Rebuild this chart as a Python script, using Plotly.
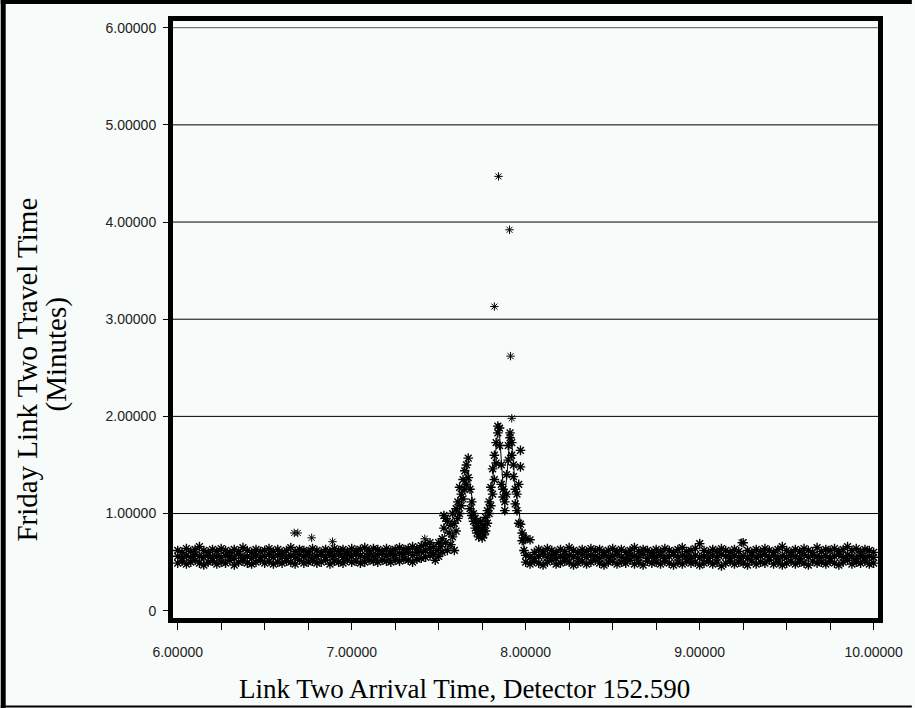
import plotly.graph_objects as go

# arrival time (hours) on a 0.025 grid before and after the congestion peak
timeEarly = [6.000, 6.025, 6.050, 6.075, 6.100, 6.125, 6.150, 6.175, 6.200, 6.225,
             6.250, 6.275, 6.300, 6.325, 6.350, 6.375, 6.400, 6.425, 6.450, 6.475,
             6.500, 6.525, 6.550, 6.575, 6.600, 6.625, 6.650, 6.675, 6.700, 6.725,
             6.750, 6.775, 6.800, 6.825, 6.850, 6.875, 6.900, 6.925, 6.950, 6.975,
             7.000, 7.025, 7.050, 7.075, 7.100, 7.125, 7.150, 7.175, 7.200, 7.225,
             7.250, 7.275, 7.300, 7.325, 7.350, 7.375, 7.400, 7.425, 7.450]
timeLate = [8.000, 8.025, 8.050, 8.075, 8.100, 8.125, 8.150, 8.175, 8.200, 8.225,
            8.250, 8.275, 8.300, 8.325, 8.350, 8.375, 8.400, 8.425, 8.450, 8.475,
            8.500, 8.525, 8.550, 8.575, 8.600, 8.625, 8.650, 8.675, 8.700, 8.725,
            8.750, 8.775, 8.800, 8.825, 8.850, 8.875, 8.900, 8.925, 8.950, 8.975,
            9.000, 9.025, 9.050, 9.075, 9.100, 9.125, 9.150, 9.175, 9.200, 9.225,
            9.250, 9.275, 9.300, 9.325, 9.350, 9.375, 9.400, 9.425, 9.450, 9.475,
            9.500, 9.525, 9.550, 9.575, 9.600, 9.625, 9.650, 9.675, 9.700, 9.725,
            9.750, 9.775, 9.800, 9.825, 9.850, 9.875, 9.900, 9.925, 9.950, 9.975,
            10.000]

# travel times (minutes): lower, middle and upper edge of the dense band
lowEarly = [0.49, 0.51, 0.48, 0.50, 0.52, 0.49, 0.47, 0.50, 0.51, 0.48,
            0.50, 0.49, 0.52, 0.47, 0.50, 0.51, 0.49, 0.48, 0.50, 0.52,
            0.49, 0.51, 0.48, 0.50, 0.49, 0.51, 0.50, 0.48, 0.52, 0.49,
            0.50, 0.51, 0.49, 0.50, 0.52, 0.48, 0.51, 0.50, 0.49, 0.52,
            0.50, 0.51, 0.49, 0.50, 0.52, 0.51, 0.50, 0.52, 0.51, 0.50,
            0.52, 0.51, 0.53, 0.52, 0.50, 0.53, 0.54, 0.55, 0.57]
midEarly = [0.56, 0.54, 0.57, 0.55, 0.58, 0.56, 0.55, 0.57, 0.54, 0.56,
            0.55, 0.57, 0.56, 0.54, 0.58, 0.55, 0.56, 0.54, 0.57, 0.55,
            0.56, 0.58, 0.55, 0.57, 0.56, 0.54, 0.57, 0.55, 0.58, 0.56,
            0.57, 0.55, 0.56, 0.58, 0.55, 0.57, 0.56, 0.58, 0.55, 0.57,
            0.56, 0.58, 0.57, 0.55, 0.58, 0.56, 0.57, 0.59, 0.56, 0.58,
            0.57, 0.59, 0.58, 0.60, 0.57, 0.60, 0.61, 0.62, 0.64]
highEarly = [0.62, 0.60, 0.64, 0.61, 0.63, 0.66, 0.62, 0.60, 0.63, 0.61,
             0.64, 0.62, 0.60, 0.63, 0.61, 0.65, 0.62, 0.60, 0.63, 0.61,
             0.62, 0.64, 0.61, 0.63, 0.60, 0.62, 0.65, 0.61, 0.63, 0.62,
             0.61, 0.64, 0.62, 0.60, 0.63, 0.61, 0.64, 0.62, 0.63, 0.61,
             0.64, 0.62, 0.63, 0.65, 0.62, 0.64, 0.63, 0.61, 0.64, 0.62,
             0.63, 0.65, 0.63, 0.64, 0.66, 0.64, 0.67, 0.68, 0.70]
lowLate = [0.50, 0.48, 0.51, 0.49, 0.47, 0.50, 0.52, 0.48, 0.49, 0.51,
           0.50, 0.47, 0.49, 0.51, 0.48, 0.50, 0.52, 0.49, 0.47, 0.50,
           0.51, 0.48, 0.50, 0.49, 0.52, 0.48, 0.50, 0.47, 0.51, 0.49,
           0.50, 0.48, 0.51, 0.49, 0.47, 0.50, 0.48, 0.51, 0.49, 0.50,
           0.47, 0.49, 0.51, 0.48, 0.50, 0.46, 0.49, 0.51, 0.48, 0.50,
           0.49, 0.47, 0.51, 0.48, 0.50, 0.49, 0.52, 0.48, 0.50, 0.47,
           0.49, 0.51, 0.48, 0.50, 0.49, 0.47, 0.51, 0.49, 0.50, 0.48,
           0.51, 0.49, 0.47, 0.50, 0.52, 0.48, 0.50, 0.49, 0.51, 0.48,
           0.49]
midLate = [0.57, 0.55, 0.54, 0.56, 0.58, 0.55, 0.57, 0.54, 0.56, 0.55,
           0.57, 0.56, 0.54, 0.58, 0.55, 0.57, 0.56, 0.54, 0.57, 0.55,
           0.56, 0.58, 0.55, 0.54, 0.57, 0.56, 0.55, 0.58, 0.54, 0.56,
           0.55, 0.57, 0.54, 0.56, 0.58, 0.55, 0.57, 0.56, 0.54, 0.57,
           0.55, 0.56, 0.54, 0.57, 0.55, 0.58, 0.56, 0.54, 0.57, 0.55,
           0.56, 0.54, 0.57, 0.55, 0.56, 0.58, 0.55, 0.57, 0.54, 0.56,
           0.55, 0.57, 0.56, 0.54, 0.58, 0.55, 0.57, 0.56, 0.55, 0.57,
           0.54, 0.56, 0.58, 0.55, 0.57, 0.56, 0.54, 0.57, 0.55, 0.56,
           0.55]
highLate = [0.74, 0.73, 0.60, 0.63, 0.61, 0.64, 0.62, 0.60, 0.63, 0.61,
            0.65, 0.62, 0.60, 0.63, 0.61, 0.64, 0.62, 0.63, 0.60, 0.62,
            0.64, 0.61, 0.63, 0.60, 0.62, 0.65, 0.61, 0.63, 0.62, 0.60,
            0.63, 0.61, 0.64, 0.62, 0.60, 0.63, 0.65, 0.61, 0.62, 0.64,
            0.69, 0.62, 0.60, 0.63, 0.61, 0.64, 0.62, 0.60, 0.63, 0.61,
            0.70, 0.62, 0.60, 0.63, 0.61, 0.64, 0.62, 0.60, 0.63, 0.66,
            0.62, 0.60, 0.63, 0.61, 0.64, 0.62, 0.60, 0.65, 0.61, 0.63,
            0.62, 0.64, 0.61, 0.63, 0.66, 0.62, 0.64, 0.61, 0.63, 0.62,
            0.60]

# congestion peak, read point by point
peakTime = [7.47, 7.47, 7.48, 7.49, 7.50, 7.50, 7.51, 7.52, 7.52, 7.53,
            7.53, 7.54, 7.54, 7.55, 7.55, 7.56, 7.57, 7.57, 7.58, 7.58,
            7.59, 7.59, 7.60, 7.60, 7.61, 7.61, 7.62, 7.62, 7.63, 7.63,
            7.64, 7.64, 7.65, 7.65, 7.66, 7.66, 7.67, 7.67, 7.68, 7.68,
            7.69, 7.69, 7.70, 7.70, 7.71, 7.71, 7.72, 7.72, 7.73, 7.73,
            7.74, 7.74, 7.75, 7.75, 7.76, 7.76, 7.77, 7.77, 7.78, 7.78,
            7.79, 7.79, 7.80, 7.80, 7.81, 7.81, 7.82, 7.82, 7.83, 7.83,
            7.84, 7.84, 7.85, 7.85, 7.86, 7.86, 7.87, 7.87, 7.88, 7.88,
            7.89, 7.89, 7.90, 7.90, 7.91, 7.91, 7.92, 7.92, 7.93, 7.93,
            7.94, 7.94, 7.95, 7.95, 7.96, 7.96, 7.97, 7.97, 7.97, 7.98,
            7.98, 7.99, 7.99]
peakTravel = [0.58, 0.66, 0.52, 0.62, 0.70, 0.56, 0.66, 0.74, 0.60, 0.98,
              0.85, 0.95, 0.70, 0.92, 0.62, 0.80, 0.68, 0.88, 0.76, 1.00,
              0.62, 0.90, 1.05, 0.82, 1.12, 0.95, 1.27, 1.00, 1.20, 1.08,
              1.35, 1.15, 1.44, 1.25, 1.50, 1.30, 1.57, 1.37, 1.25, 1.05,
              1.12, 0.98, 0.92, 1.00, 0.85, 0.95, 0.80, 0.90, 0.76, 0.86,
              0.92, 0.80, 0.75, 0.84, 0.88, 0.78, 0.96, 0.82, 1.03, 0.90,
              1.12, 1.00, 1.27, 1.08, 1.46, 1.20, 1.60, 1.35, 1.73, 1.52,
              1.90, 1.83, 1.70, 1.88, 1.50, 1.30, 1.17, 1.25, 1.03, 1.12,
              1.20, 1.40, 1.55, 1.70, 1.83, 1.78, 1.73, 1.60, 1.38, 1.50,
              1.25, 1.10, 1.03, 1.20, 0.90, 1.30, 1.65, 1.48, 0.89, 0.80,
              0.72, 0.62, 0.75]

# isolated points
outTime = [6.67, 6.69, 6.77, 6.89, 7.42, 7.82, 7.844, 7.907, 7.913, 7.92, 9.00, 9.24]
outTravel = [0.80, 0.80, 0.75, 0.71, 0.74, 3.13, 4.47, 3.92, 2.62, 1.98, 0.69, 0.70]

# smoothed travel time line
trendTime = [6.00, 7.45, 7.50, 7.55, 7.60, 7.64, 7.67, 7.70, 7.73, 7.76, 7.79, 7.81,
             7.83, 7.845, 7.86, 7.875, 7.89, 7.91, 7.925, 7.94, 7.96, 7.98, 8.00, 10.00]
trendTravel = [0.56, 0.60, 0.64, 0.85, 1.00, 1.25, 1.45, 1.05, 0.82, 0.84, 1.00, 1.35,
               1.70, 1.93, 1.55, 1.15, 1.35, 1.80, 1.65, 1.25, 1.05, 0.75, 0.58, 0.56]

xTicks = [6, 7, 8, 9, 10]
xTickText = ["6.00000", "7.00000", "8.00000", "9.00000", "10.00000"]
yTicks = [0, 1, 2, 3, 4, 5, 6]
yTickText = ["0", "1.00000", "2.00000", "3.00000", "4.00000", "5.00000", "6.00000"]
gridLevels = [1, 2, 3, 4, 5, 6]

BG = "#f7fbf9"
W, H = 915, 708
L, R, T, B = 173, 34, 21, 90


def px(x):
    return (x - L) / (W - L - R)


def py(y):
    return (H - B - y) / (H - T - B)


def stars(x, y, size=8, width=1.4):
    return go.Scatter(x=x, y=y, mode="markers", showlegend=False,
                      marker=dict(symbol="asterisk-open", size=size, color="black",
                                  line=dict(color="black", width=width)))


fig = go.Figure()
for t, v in [(timeEarly, lowEarly), (timeEarly, midEarly), (timeEarly, highEarly),
             (timeLate, lowLate), (timeLate, midLate), (timeLate, highLate),
             (peakTime, peakTravel)]:
    fig.add_trace(stars(t, v))
fig.add_trace(stars(outTime, outTravel, size=7, width=1))
fig.add_trace(go.Scatter(x=trendTime, y=trendTravel, mode="lines", showlegend=False,
                         line=dict(color="black", width=1)))

shapes = []
for g in gridLevels:
    shapes.append(dict(type="line", xref="paper", yref="y", x0=0, x1=1, y0=g, y1=g,
                       layer="below", line=dict(color="#555" if g == 6 else "black", width=1)))
# frame around the whole picture
shapes.append(dict(type="line", xref="paper", yref="paper", x0=px(2.5), x1=px(2.5),
                   y0=py(0), y1=py(708), line=dict(color="black", width=5)))
shapes.append(dict(type="line", xref="paper", yref="paper", x0=px(0), x1=px(915),
                   y0=py(2), y1=py(2), line=dict(color="black", width=4)))
shapes.append(dict(type="line", xref="paper", yref="paper", x0=px(0), x1=px(915),
                   y0=py(706.5), y1=py(706.5), line=dict(color="black", width=2)))

titleFont = dict(family="Liberation Serif, Times New Roman, serif", size=27, color="black")
annotations = [
    dict(text="Link Two Arrival Time, Detector 152.590", xref="paper", yref="paper",
         x=px(466), y=py(689), xanchor="center", yanchor="middle",
         showarrow=False, font=titleFont),
    dict(text="Friday Link Two Travel Time", xref="paper", yref="paper",
         x=px(26), y=py(370), xanchor="center", yanchor="middle",
         showarrow=False, textangle=-90, font=dict(titleFont, size=29)),
    dict(text="(Minutes)", xref="paper", yref="paper",
         x=px(55), y=py(355), xanchor="center", yanchor="middle",
         showarrow=False, textangle=-90, font=dict(titleFont, size=29)),
]

tickFont = dict(family="Liberation Sans, Arial, sans-serif", size=14, color="#222")
fig.update_layout(
    width=W, height=H,
    margin=dict(l=L, r=R, t=T, b=B),
    paper_bgcolor=BG, plot_bgcolor=BG,
    shapes=shapes, annotations=annotations,
    xaxis=dict(range=[5.973, 10.025], tickvals=xTicks, ticktext=xTickText,
               showgrid=False, zeroline=False, showline=True, linewidth=5,
               linecolor="black", mirror=True, ticks="outside", ticklen=7,
               tickcolor="black", tickfont=tickFont, ticklabelstandoff=10,
               minor=dict(dtick=0.25, tick0=6, ticks="outside", ticklen=7,
                          tickcolor="black", showgrid=False)),
    yaxis=dict(range=[-0.075, 6.069], tickvals=yTicks, ticktext=yTickText,
               showgrid=False, zeroline=False, showline=True, linewidth=5,
               linecolor="black", mirror=True, ticks="outside", ticklen=5,
               tickcolor="black", tickfont=tickFont, ticklabelstandoff=4),
)

# the page puts an 8px margin round the plot; take it away so the plot fills the window
fig.write_html("out.html", config={"displayModeBar": False},
               post_script="document.body.style.margin = '0';")
